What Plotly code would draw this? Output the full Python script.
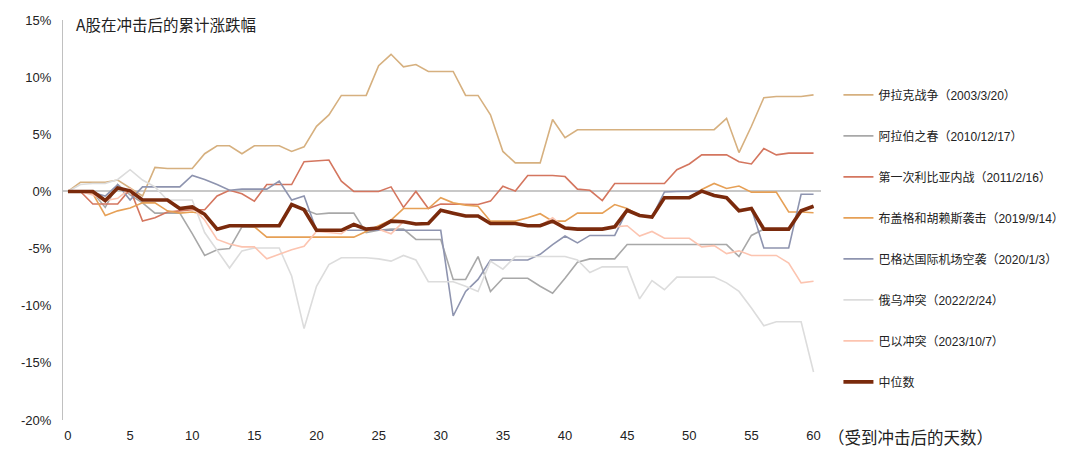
import plotly.graph_objects as go

days = list(range(61))

names = ["伊拉克战争（2003/3/20）", "阿拉伯之春（2010/12/17）", "第一次利比亚内战（2011/2/16）",
         "布盖格和胡赖斯袭击（2019/9/14）", "巴格达国际机场空袭（2020/1/3）", "俄乌冲突（2022/2/24）",
         "巴以冲突（2023/10/7）", "中位数"]

iraq = [0, 0.8, 0.8, 0.8, 1.0, 0.3, -0.4, 2.1, 2.0, 2.0,
        2.0, 3.3, 4.0, 4.0, 3.3, 4.0, 4.0, 4.0, 3.5, 3.9,
        5.7, 6.7, 8.4, 8.4, 8.4, 11.0, 12.0, 10.9, 11.1, 10.5,
        10.5, 10.5, 8.4, 8.4, 6.7, 3.5, 2.5, 2.5, 2.5, 6.3,
        4.7, 5.4, 5.4, 5.4, 5.4, 5.4, 5.4, 5.4, 5.4, 5.4,
        5.4, 5.4, 5.4, 6.4, 3.4, 5.7, 8.2, 8.3, 8.3, 8.3, 8.45]

arab = [0, 0, -0.1, -1.4, 0.6, -0.3, -1.0, -1.9, -1.9, -1.9,
        -3.7, -5.6, -5.1, -5.0, -3.1, -3.1, -3.0, -3.0, -1.15, -1.6,
        -2.0, -1.9, -1.9, -1.9, -3.6, -3.4, -3.3, -3.3, -4.2, -4.2,
        -4.2, -7.7, -7.7, -5.7, -8.75, -7.6, -7.6, -7.6, -8.3, -8.9,
        -7.6, -6.2, -5.9, -5.9, -5.9, -4.65, -4.65, -4.65, -4.65, -4.65,
        -4.65, -4.65, -4.65, -4.65, -5.7, -3.85, -3.3, -3.3, -3.3, -1.7, -1.3]

libya = [0, 0, -1.1, -1.1, -1.1, 0.2, -2.6, -2.3, -1.8, -1.7,
         -1.6, -1.6, -0.4, 0.1, -0.2, -0.85, 0.6, 0.6, 0.6, 2.6,
         2.7, 2.75, 0.9, 0, 0, 0, 0.4, -1.4, 0, -1.5,
         -1.1, -1.1, -1.1, -1.15, -0.85, 0.45, 0.03, 1.4, 1.4, 1.4,
         1.3, 0.2, 0.1, -0.8, 0.7, 0.7, 0.7, 0.7, 0.7, 1.9,
         2.4, 3.2, 3.2, 3.2, 2.6, 2.4, 3.75, 3.2, 3.35, 3.35, 3.35]

abqaiq = [0, 0, -0.2, -2.1, -1.7, -1.45, -1.0, -1.0, -1.7, -1.9,
          -1.8, -2.0, -3.3, -3.0, -3.0, -3.1, -4.0, -4.0, -4.0, -4.0,
          -4.0, -4.0, -4.0, -4.0, -3.5, -3.0, -2.5, -1.5, -1.5, -1.5,
          -0.55, -1.0, -1.2, -1.3, -2.6, -2.6, -2.6, -2.3, -1.95, -2.6,
          -2.6, -1.9, -1.9, -1.9, -1.15, -1.5, -2.1, -2.25, -0.55, -0.55,
          -0.55, 0.17, 0.7, 0.26, 0.47, -0.06, -0.06, -0.06, -1.8, -1.8, -1.87]

baghdad = [0, 0, -0.1, -0.4, 0.6, -0.75, 0.4, 0.4, 0.4, 0.4,
           1.4, 1.05, 0.6, 0.1, 0.2, 0.2, 0.2, 0.9, -0.75, -0.4,
           -3.4, -3.4, -3.4, -3.4, -3.4, -3.4, -3.4, -3.4, -3.4, -3.4,
           -3.4, -10.9, -8.75, -7.7, -6.0, -6.0, -6.0, -6.0, -5.5, -4.65,
           -3.9, -4.5, -3.85, -3.85, -3.85, -1.65, -2.1, -2.25, -0.05, 0,
           0, 0.03, -0.35, -0.55, -1.7, -1.5, -4.95, -4.95, -4.95, -0.25, -0.25]

russia = [0, 0.6, 0.7, 0.7, 1.05, 1.9, 1.0, 0.4, -0.75, -0.75,
          -0.75, -3.6, -5.2, -6.7, -5.2, -4.95, -4.95, -4.95, -7.4, -12.0,
          -8.3, -6.4, -5.8, -5.8, -5.8, -5.9, -6.1, -5.6, -6.0, -7.9,
          -7.9, -7.9, -8.3, -8.75, -6.1, -6.8, -5.7, -5.7, -5.7, -5.7,
          -5.7, -6.0, -7.1, -6.6, -6.6, -6.6, -9.4, -7.8, -8.6, -7.5,
          -7.5, -7.5, -7.5, -8.0, -8.75, -10.2, -11.75, -11.4, -11.4, -11.4, -15.8]

israel = [0, 0, -0.3, -0.8, -0.6, 0.25, -0.75, -0.75, -0.75, -1.5,
          -1.35, -2.5, -4.2, -4.6, -4.85, -4.85, -5.9, -5.5, -5.1, -4.8,
          -3.5, -3.6, -3.7, -2.9, -3.3, -3.3, -3.7, -2.65, -2.85, -2.8,
          -1.65, -1.9, -2.15, -2.15, -2.8, -2.8, -2.8, -3.0, -3.0, -2.3,
          -3.2, -3.3, -3.3, -3.3, -3.1, -3.0, -3.9, -3.5, -4.1, -4.1,
          -4.1, -4.85, -4.74, -5.44, -5.2, -5.6, -5.6, -5.6, -6.26, -8.0, -7.86]

median = [0, 0, 0, -0.8, 0.3, 0.05, -0.75, -0.75, -0.75, -1.5,
          -1.35, -2.0, -3.3, -3.0, -3.0, -3.0, -3.0, -3.0, -1.15, -1.6,
          -3.4, -3.4, -3.4, -2.9, -3.3, -3.2, -2.6, -2.65, -2.85, -2.8,
          -1.65, -1.9, -2.15, -2.15, -2.8, -2.8, -2.8, -3.0, -3.0, -2.6,
          -3.2, -3.3, -3.3, -3.3, -3.1, -1.65, -2.1, -2.25, -0.55, -0.55,
          -0.55, 0.03, -0.35, -0.55, -1.7, -1.5, -3.3, -3.3, -3.3, -1.7, -1.3]

series = [iraq, arab, libya, abqaiq, baghdad, russia, israel, median]
colors = ["#D6B07F", "#A8A8A8", "#D4765F", "#E6A056", "#8E94AF", "#DCDCDC", "#FCC4B0", "#7A2A0C"]
widths = [1.6, 1.6, 1.6, 1.6, 1.6, 1.6, 1.6, 3.6]

y_ticks = [-20, -15, -10, -5, 0, 5, 10, 15]
y_labels = ["-20%", "-15%", "-10%", "-5%", "0%", "5%", "10%", "15%"]
x_ticks = list(range(0, 61, 5))

fig = go.Figure()
for i, (nm, ys) in enumerate(zip(names, series)):
    fig.add_trace(go.Scatter(
        x=days, y=ys, mode="lines", name=nm, legendgroup=str(i),
        line=dict(color=colors[i], width=widths[i]),
    ))

fig.update_layout(
    width=1072, height=450,
    margin=dict(l=55, r=259, t=12, b=38, autoexpand=False),
    paper_bgcolor="white", plot_bgcolor="white",
    font=dict(family="Liberation Sans, Noto Sans CJK SC", size=13, color="#222222"),
    showlegend=True,
    legend=dict(
        x=1.023, y=0.849, xanchor="left", yanchor="top",
        font=dict(family="Liberation Sans, Noto Sans CJK SC", size=12, color="#222222"),
        tracegroupgap=22, itemwidth=30, bgcolor="rgba(0,0,0,0)",
    ),
    xaxis=dict(
        range=[-0.4, 60.6], tickvals=x_ticks, showgrid=False, zeroline=False,
        showline=False, ticks="", ticklabelstandoff=6,
        tickfont=dict(size=13),
    ),
    yaxis=dict(
        range=[-20, 15], tickvals=y_ticks, ticktext=y_labels, showgrid=False,
        zeroline=True, zerolinecolor="#C8C8C8", zerolinewidth=1.5,
        showline=True, linecolor="#C0C0C0", linewidth=1, ticks="",
        ticklabelstandoff=8, tickfont=dict(size=13),
    ),
    annotations=[
        dict(text="A股在冲击后的累计涨跌幅", xref="paper", yref="paper", x=0, y=1,
             xanchor="left", yanchor="middle", xshift=11, yshift=-4, showarrow=False,
             font=dict(family="Noto Sans CJK SC", size=15.5, color="#222222")),
        dict(text="（受到冲击后的天数）", xref="paper", yref="paper", x=1, y=0,
             xanchor="left", yanchor="middle", xshift=5, yshift=-17, showarrow=False,
             font=dict(family="Noto Sans CJK SC", size=16.5, color="#222222")),
    ],
)

fig.write_html("out.html")
